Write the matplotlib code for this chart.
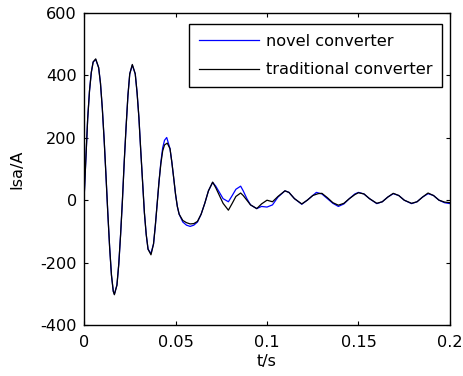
import matplotlib
matplotlib.use('Agg')
import matplotlib.pyplot as plt

# novel converter
t_novel = [0.000, 0.001, 0.002, 0.003, 0.004, 0.005, 0.0064, 0.008, 0.009, 0.010,
           0.011, 0.012, 0.013, 0.014, 0.015, 0.016, 0.0166, 0.018, 0.019, 0.020,
           0.021, 0.022, 0.023, 0.024, 0.025, 0.0264, 0.028, 0.029, 0.030, 0.031,
           0.032, 0.033, 0.034, 0.035, 0.0366, 0.038, 0.039, 0.040, 0.041, 0.042,
           0.043, 0.044, 0.0452, 0.047, 0.048, 0.049, 0.050, 0.051, 0.052, 0.054,
           0.056, 0.058, 0.060, 0.062, 0.064, 0.066, 0.068, 0.0703, 0.072, 0.074,
           0.076, 0.0789, 0.081, 0.083, 0.0856, 0.087, 0.089, 0.091, 0.0944, 0.097,
           0.100, 0.103, 0.106, 0.1098, 0.112, 0.115, 0.119, 0.122, 0.125, 0.127,
           0.130, 0.133, 0.136, 0.139, 0.142, 0.145, 0.148, 0.150, 0.153, 0.156,
           0.160, 0.163, 0.166, 0.169, 0.172, 0.175, 0.179, 0.182, 0.185, 0.188,
           0.191, 0.194, 0.197, 0.200]
i_novel = [0, 130, 260, 350, 410, 443, 451, 425, 375, 295,
           195, 80, -40, -150, -240, -292, -301, -272, -205, -110,
           0, 125, 235, 335, 405, 433, 405, 345, 265, 160,
           60, -40, -110, -157, -171, -140, -80, -10, 60, 122,
           168, 192, 201, 165, 122, 72, 20, -20, -45, -70,
           -80, -84, -80, -70, -45, -10, 30, 57, 45, 25,
           5, -5, 15, 35, 45, 30, 5, -15, -27, -20,
           -22, -15, 10, 30, 25, 5, -13, 0, 15, 25,
           20, 5, -10, -20, -12, 5, 20, 25, 20, 5,
           -11, -5, 10, 21, 15, 0, -11, -5, 10, 21,
           15, 0, -8, -11]

# traditional converter
t_trad = [0.000, 0.001, 0.002, 0.003, 0.004, 0.005, 0.0064, 0.008, 0.009, 0.010,
          0.011, 0.012, 0.013, 0.014, 0.015, 0.016, 0.0166, 0.018, 0.019, 0.020,
          0.021, 0.022, 0.023, 0.024, 0.025, 0.0264, 0.028, 0.029, 0.030, 0.031,
          0.032, 0.033, 0.034, 0.035, 0.0366, 0.038, 0.039, 0.040, 0.041, 0.042,
          0.043, 0.044, 0.0455, 0.047, 0.048, 0.049, 0.050, 0.051, 0.052, 0.054,
          0.056, 0.058, 0.060, 0.062, 0.064, 0.066, 0.068, 0.0703, 0.072, 0.074,
          0.076, 0.0789, 0.081, 0.083, 0.0856, 0.087, 0.089, 0.091, 0.0944, 0.097,
          0.100, 0.103, 0.106, 0.1098, 0.112, 0.115, 0.119, 0.122, 0.125, 0.128,
          0.130, 0.133, 0.136, 0.139, 0.142, 0.145, 0.148, 0.150, 0.153, 0.156,
          0.160, 0.163, 0.166, 0.169, 0.172, 0.175, 0.179, 0.182, 0.185, 0.188,
          0.191, 0.194, 0.197, 0.200]
i_trad = [0, 130, 260, 350, 410, 443, 453, 425, 375, 295,
          195, 80, -40, -150, -240, -292, -303, -272, -205, -110,
          0, 125, 235, 335, 405, 435, 405, 345, 265, 160,
          60, -40, -110, -157, -175, -140, -80, -10, 60, 117,
          158, 177, 183, 165, 122, 72, 20, -20, -45, -65,
          -72, -76, -75, -68, -45, -10, 30, 58, 40, 15,
          -10, -32, -10, 12, 23, 15, 0, -15, -27, -12,
          0, -5, 12, 30, 25, 5, -12, 0, 15, 21,
          22, 8, -8, -16, -10, 5, 18, 24, 20, 5,
          -10, -5, 10, 22, 15, 0, -10, -5, 10, 23,
          15, 0, -6, -8]

plt.rcParams['font.size'] = 11.6
plt.rcParams['axes.unicode_minus'] = False

fig = plt.figure(figsize=(4.64, 3.76), dpi=100)
ax = fig.add_axes([84/464, 1 - 325/376, 366/464, 312/376])

ax.plot(t_novel, i_novel, 'b', lw=0.9, label='novel converter')
ax.plot(t_trad, i_trad, 'k', lw=0.9, label='traditional converter')

ax.set_xlim(0, 0.2)
ax.set_ylim(-400, 600)
ax.set_xticks([0, 0.05, 0.1, 0.15, 0.2])
ax.set_xticklabels(['0', '0.05', '0.1', '0.15', '0.2'])
ax.set_yticks([-400, -200, 0, 200, 400, 600])
ax.tick_params(direction='in', length=3, width=0.8, top=True, right=True)
ax.tick_params(axis='x', pad=7)
ax.tick_params(axis='y', pad=5)
for s in ax.spines.values():
    s.set_linewidth(1.0)

ax.set_xlabel('t/s', labelpad=3)
ax.set_ylabel('Isa/A', labelpad=12)

leg = ax.legend(loc='upper right', bbox_to_anchor=(0.978, 0.965), borderaxespad=0,
                fancybox=False, edgecolor='k', framealpha=1, handlelength=3.7,
                labelspacing=0.85, borderpad=0.6, handletextpad=0.45)
leg.get_frame().set_linewidth(1.0)

fig.savefig('out.png', dpi=100)
